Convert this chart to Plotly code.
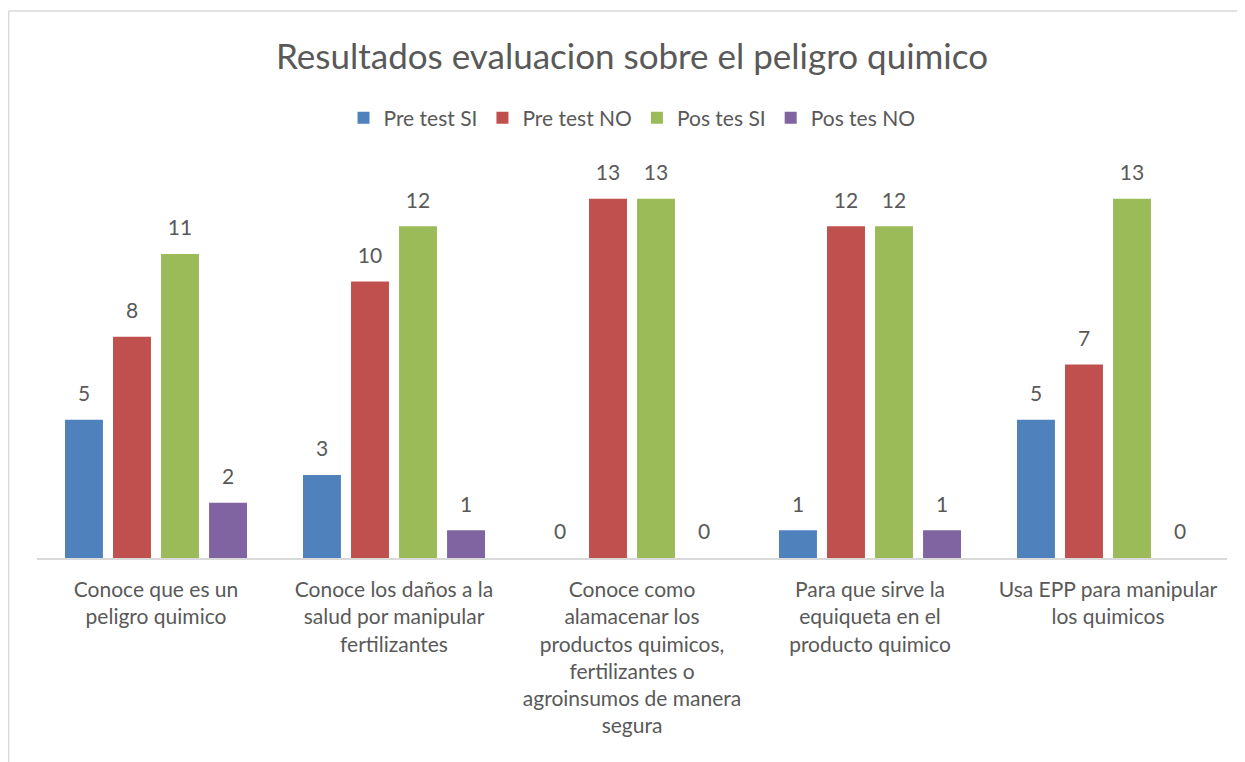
import plotly.graph_objects as go

# categories (x axis) with the line breaks seen in the picture
categories = [
    "Conoce que es un<br>peligro quimico",
    "Conoce los daños a la<br>salud por manipular<br>fertilizantes",
    "Conoce como<br>alamacenar los<br>productos quimicos,<br>fertilizantes o<br>agroinsumos de manera<br>segura",
    "Para que sirve la<br>equiqueta en el<br>producto quimico",
    "Usa EPP para manipular<br>los quimicos",
]

series_names = ["Pre test SI", "Pre test NO", "Pos tes SI", "Pos tes NO"]
pre_si = [5, 3, 0, 1, 5]
pre_no = [8, 10, 13, 12, 7]
pos_si = [11, 12, 13, 12, 13]
pos_no = [2, 1, 0, 1, 0]
series_values = [pre_si, pre_no, pos_si, pos_no]
colors = ["#4F81BD", "#C0504D", "#9BBB59", "#8064A2"]

font_family = "Lato, Open Sans, sans-serif"
text_grey = "#595959"

fig = go.Figure()

for name, vals, col in zip(series_names, series_values, colors):
    fig.add_trace(go.Bar(
        x=categories, y=vals, name=name, marker=dict(color=col, line=dict(width=0)),
        hoverinfo="skip"))

# data labels: invisible markers push the text above the bar tops
for name, vals in zip(series_names, series_values):
    fig.add_trace(go.Scatter(
        x=categories, y=vals, mode="markers+text", text=[str(v) for v in vals],
        textposition="top center", textfont=dict(size=21, color=text_grey, family=font_family),
        marker=dict(size=20, opacity=0), showlegend=False, hoverinfo="skip", cliponaxis=False))

# the page body adds an 8px offset, so the figure is 8px smaller than the window
fig.update_layout(
    width=1237, height=754,
    margin=dict(l=29, r=18, t=163, b=204),
    paper_bgcolor="white", plot_bgcolor="white",
    barmode="group", bargap=0.193, bargroupgap=0.21,
    scattermode="group", scattergap=0.193,
    font=dict(family=font_family, color=text_grey, size=21),
    title=dict(text="Resultados evaluacion sobre el peligro quimico", x=0.5, xref="paper",
               y=1 - 49 / 754, yref="container", yanchor="middle", xanchor="center",
               font=dict(size=35, color=text_grey, family=font_family)),
    legend=dict(orientation="h", x=0.5, xanchor="center", y=1.137, yanchor="middle",
                font=dict(size=21, color=text_grey), itemclick=False, traceorder="normal"),
    showlegend=True,
)

fig.update_xaxes(showline=True, linecolor="#D9D9D9", linewidth=1.5, showgrid=False,
                 ticks="", ticklabelstandoff=12, tickfont=dict(size=21, color=text_grey),
                 tickangle=0)
fig.update_yaxes(visible=False, range=[0, 14])

# light outer frame of the chart area (left and top edges visible)
fig.add_shape(type="line", xref="paper", yref="paper", x0=-0.0239, x1=-0.0239, y0=-0.7, y1=1.4134,
              line=dict(color="#D9D9D9", width=1.5))
fig.add_shape(type="line", xref="paper", yref="paper", x0=-0.0239, x1=1.1, y0=1.4134, y1=1.4134,
              line=dict(color="#D9D9D9", width=1.5))

fig.write_html("out.html")
